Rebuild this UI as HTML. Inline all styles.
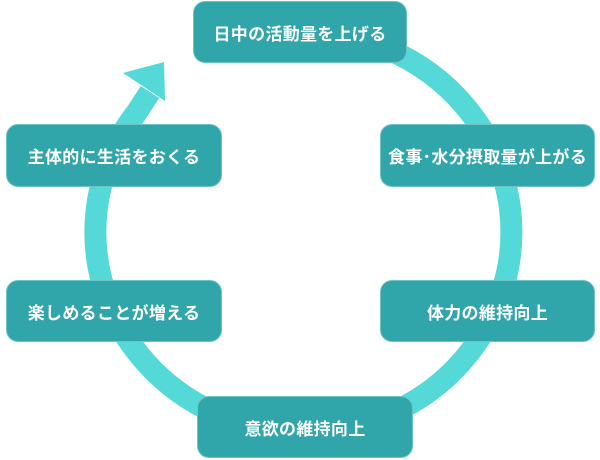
<!DOCTYPE html>
<html><head><meta charset="utf-8"><style>
body{margin:0;width:600px;height:460px;background:#fff;position:relative;overflow:hidden;font-family:"Liberation Sans","Noto Sans CJK JP",sans-serif}
svg{position:absolute;left:0;top:0}
.b{position:absolute;background:#30a5aa;border-radius:12px;color:#fff;font-weight:bold;font-size:17px;display:flex;align-items:center;justify-content:center;letter-spacing:0.3px;border:1px solid #6cc4c6;box-sizing:border-box}
</style></head><body>
<svg width="600" height="460">
<path d="M303,32 A208,200 0 1 1 137,112 L150,92" fill="none" stroke="#55d8d8" stroke-width="22"/>
<polygon points="123,73 164,62 165,101" fill="#55d8d8"/>
</svg>
<div class="b" style="left:193px;top:1px;width:214px;height:62px">日中の活動量を上げる</div>
<div class="b" style="left:6px;top:124px;width:216px;height:63px">主体的に生活をおくる</div>
<div class="b" style="left:380px;top:124px;width:215px;height:63px">食事･水分摂取量が上がる</div>
<div class="b" style="left:6px;top:280px;width:216px;height:62px">楽しめることが増える</div>
<div class="b" style="left:380px;top:280px;width:215px;height:62px">体力の維持向上</div>
<div class="b" style="left:197px;top:396px;width:216px;height:62px">意欲の維持向上</div>
</body></html>
